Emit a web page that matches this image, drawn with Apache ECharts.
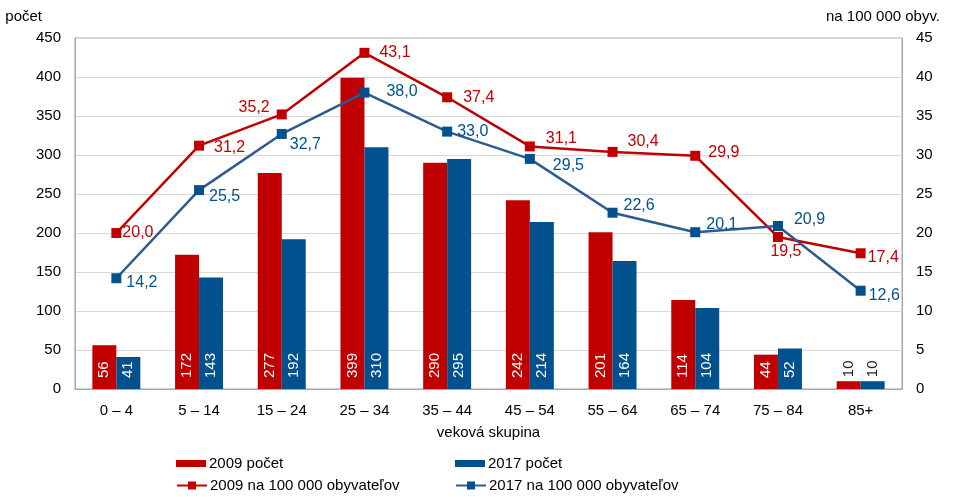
<!DOCTYPE html>
<html>
<head>
<meta charset="utf-8">
<script src="https://cdn.jsdelivr.net/npm/echarts@6/dist/echarts.min.js"></script>
<style>
  html, body { margin: 0; padding: 0; background: #fff; }
  #chart { width: 954px; height: 497px; }
</style>
</head>
<body>
<div id="chart"></div>
<script>
  var categories = ['0 – 4', '5 – 14', '15 – 24', '25 – 34', '35 – 44', '45 – 54', '55 – 64', '65 – 74', '75 – 84', '85+']
  var count2009 = [56, 172, 277, 399, 290, 242, 201, 114, 44, 10]
  var count2017 = [41, 143, 192, 310, 295, 214, 164, 104, 52, 10]
  var rate2009 = [20.0, 31.2, 35.2, 43.1, 37.4, 31.1, 30.4, 29.9, 19.5, 17.4]
  var rate2017 = [14.2, 25.5, 32.7, 38.0, 33.0, 29.5, 22.6, 20.1, 20.9, 12.6]

  var RED = '#C00000'
  var BLUE = '#00518E'
  var FONT = 'Liberation Sans'

  // kde je popisok ciary (pozicia + posun)
  var redPos = ['right', 'right', 'left', 'right', 'right', 'right', 'right', 'right', 'bottom', 'right']
  var redOff = [[1, 0], [10, 2], [-7, -7], [10, 0], [11, 0], [11, -8], [10, -10], [8, -3], [8, 2], [2, 4]]
  var bluePos = ['right', 'right', 'right', 'right', 'right', 'right', 'right', 'right', 'right', 'right']
  var blueOff = [[5, 4], [5, 6], [3, 11], [17, -1], [5, 0], [18, 7], [6, -7], [6, -8], [11, -6], [3, 5]]

  function fmt(v) {
    return v.toFixed(1).replace('.', ',')
  }

  function barData(values) {
    return values.map(function (v) {
      if (v < 20) {
        return {
          value: v,
          label: { position: 'top', color: '#222', distance: 4 }
        }
      }
      return v
    })
  }

  function lineData(values, pos, off) {
    return values.map(function (v, i) {
      return { value: v, label: { position: pos[i], offset: off[i] } }
    })
  }

  var barLabel = {
    show: true,
    rotate: 90,
    position: 'insideBottom',
    distance: 11,
    align: 'left',
    verticalAlign: 'middle',
    color: '#fff',
    fontFamily: FONT,
    fontSize: 15
  }

  var legendText = { fontSize: 15, color: '#000', padding: [0, 0, 0, -2] }

  var chart = echarts.init(document.getElementById('chart'))
  chart.setOption({
    animation: false,
    textStyle: { fontFamily: FONT },
    grid: {
      left: 75, right: 52, top: 38, bottom: 108,
      show: true, borderColor: '#A6A6A6', borderWidth: 1
    },
    legend: [
      { left: 171, top: 451, icon: 'rect', itemWidth: 30, itemHeight: 7, data: ['2009 počet'], textStyle: legendText },
      { left: 450, top: 451, icon: 'rect', itemWidth: 30, itemHeight: 7, data: ['2017 počet'], textStyle: legendText },
      { left: 171, top: 473, itemWidth: 30, itemHeight: 10, data: ['2009 na 100 000 obyvateľov'], textStyle: legendText },
      { left: 450, top: 473, itemWidth: 30, itemHeight: 10, data: ['2017 na 100 000 obyvateľov'], textStyle: legendText }
    ],
    xAxis: {
      type: 'category',
      data: categories,
      name: 'veková skupina',
      nameLocation: 'middle',
      nameGap: 36,
      nameTextStyle: { fontSize: 15, color: '#000' },
      axisTick: { show: false },
      axisLine: { lineStyle: { color: '#A6A6A6' } },
      axisLabel: { fontSize: 15, color: '#000', margin: 14 }
    },
    yAxis: [
      {
        type: 'value', min: 0, max: 450, interval: 50,
        name: 'počet',
        nameGap: 14,
        nameTextStyle: { fontSize: 15, color: '#000', align: 'right', padding: [0, 33, 0, 0] },
        axisLine: { show: true, lineStyle: { color: '#A6A6A6' } },
        axisLabel: { fontSize: 15, color: '#000', margin: 14 },
        splitLine: { lineStyle: { color: '#D9D9D9' } }
      },
      {
        type: 'value', min: 0, max: 45, interval: 5,
        name: 'na 100 000 obyv.',
        nameGap: 14,
        nameTextStyle: { fontSize: 15, color: '#000', align: 'right', padding: [0, -38, 0, 0] },
        axisLine: { show: true, lineStyle: { color: '#A6A6A6' } },
        axisLabel: { fontSize: 15, color: '#000', margin: 14 },
        splitLine: { show: false }
      }
    ],
    series: [
      {
        name: '2009 počet', type: 'bar', barWidth: '29%', barGap: '0%',
        itemStyle: { color: RED },
        label: barLabel,
        data: barData(count2009)
      },
      {
        name: '2017 počet', type: 'bar', barWidth: '29%',
        itemStyle: { color: BLUE },
        label: barLabel,
        data: barData(count2017)
      },
      {
        name: '2009 na 100 000 obyvateľov', type: 'line', yAxisIndex: 1,
        symbol: 'rect', symbolSize: 10,
        itemStyle: { color: RED },
        lineStyle: { color: RED, width: 2.5 },
        label: { show: true, color: RED, fontSize: 16, distance: 0, formatter: function (p) { return fmt(p.value) } },
        data: lineData(rate2009, redPos, redOff)
      },
      {
        name: '2017 na 100 000 obyvateľov', type: 'line', yAxisIndex: 1,
        symbol: 'rect', symbolSize: 10,
        itemStyle: { color: BLUE },
        lineStyle: { color: '#2E5B8F', width: 2.5 },
        label: { show: true, color: BLUE, fontSize: 16, distance: 0, formatter: function (p) { return fmt(p.value) } },
        data: lineData(rate2017, bluePos, blueOff)
      }
    ]
  })
</script>
</body>
</html>
